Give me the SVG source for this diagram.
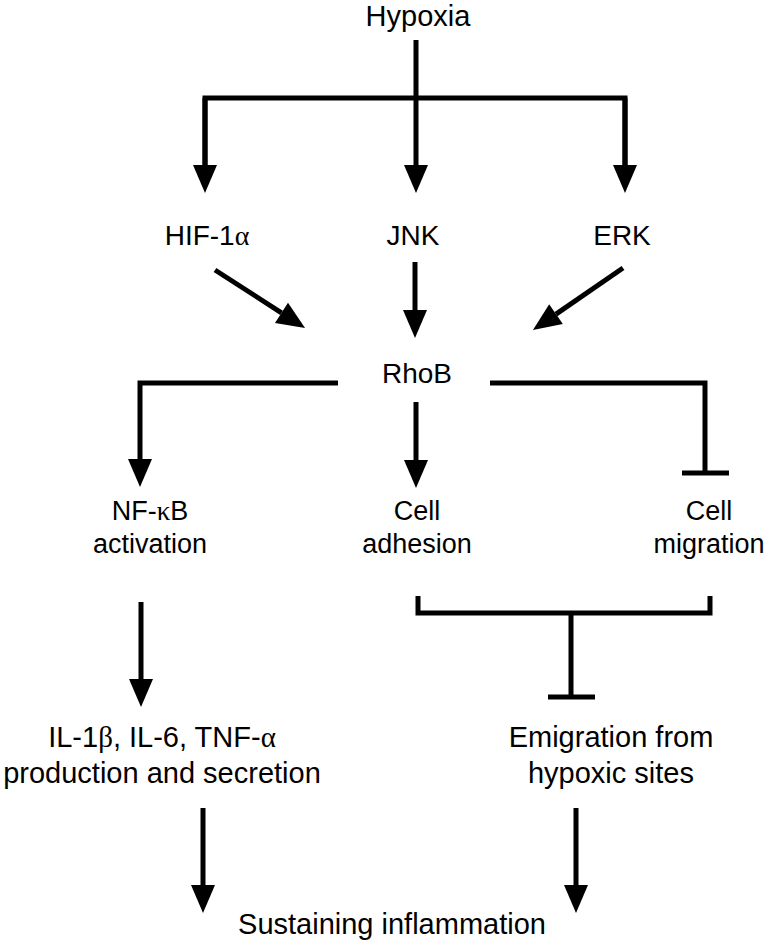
<svg xmlns="http://www.w3.org/2000/svg" width="769" height="943" viewBox="0 0 769 943">
<style>
  text { font-family: "Liberation Sans", Arial, sans-serif; fill: #000; text-anchor: middle; }
  .big { font-size: 29px; }
  .mid { font-size: 28px; }
  .sm { font-size: 27px; }
  .gr { font-family: "Liberation Serif", "DejaVu Serif", serif; }
  .ln { stroke: #000; stroke-width: 5; fill: none; }
  .arr { marker-end: url(#ah); }
</style>
<defs>
  <marker id="ah" markerUnits="userSpaceOnUse" markerWidth="30" markerHeight="26" refX="0" refY="13" orient="auto" overflow="visible">
    <path d="M0,1 L28,13 L0,25 z" fill="#000"/>
  </marker>
</defs>
<rect width="769" height="943" fill="#fff"/>
<g id="connectors">
  <line class="ln" x1="416" y1="40" x2="416" y2="98"/>
  <polyline class="ln" points="205,165 205,98 625,98 625,165" style="marker-end:none"/>
  <line class="ln arr" x1="205" y1="98" x2="205" y2="165"/>
  <line class="ln arr" x1="416" y1="98" x2="416" y2="165"/>
  <line class="ln arr" x1="625" y1="98" x2="625" y2="165"/>
  <line class="ln arr" x1="215" y1="270" x2="281.5" y2="312.8"/>
  <line class="ln arr" x1="415" y1="262" x2="415" y2="310"/>
  <line class="ln arr" x1="623" y1="268" x2="556" y2="314.1"/>
  <polyline class="ln arr" points="338,383 140,383 140,459"/>
  <line class="ln arr" x1="416" y1="402" x2="416" y2="460"/>
  <polyline class="ln" points="490,383 705,383 705,473"/>
  <line class="ln" x1="682" y1="473" x2="729" y2="473"/>
  <line class="ln arr" x1="141" y1="602" x2="141" y2="679"/>
  <polyline class="ln" points="418,596 418,613 710,613 710,596"/>
  <line class="ln" x1="571" y1="613" x2="571" y2="697"/>
  <line class="ln" x1="548" y1="697" x2="595" y2="697"/>
  <line class="ln arr" x1="203" y1="808" x2="203" y2="885"/>
  <line class="ln arr" x1="576" y1="808" x2="576" y2="885"/>
</g>
<g id="hypoxia"><text class="big" x="418" y="26">Hypoxia</text></g>
<g id="hif"><text class="mid" x="207" y="245">HIF-1<tspan class="gr">α</tspan></text></g>
<g id="jnk"><text class="mid" x="413" y="245">JNK</text></g>
<g id="erk"><text class="mid" x="622" y="245">ERK</text></g>
<g id="rhob"><text class="mid" x="417" y="383">RhoB</text></g>
<g id="nfkb"><text class="sm" x="150" y="520">NF-<tspan class="gr">κ</tspan>B</text><text class="sm" x="150" y="553">activation</text></g>
<g id="adhesion"><text class="sm" x="417" y="520">Cell</text><text class="sm" x="417" y="553">adhesion</text></g>
<g id="migration"><text class="sm" x="709" y="520">Cell</text><text class="sm" x="709" y="553">migration</text></g>
<g id="cytokines"><text class="big" x="162" y="747">IL-1<tspan class="gr">β</tspan>, IL-6, TNF-<tspan class="gr">α</tspan></text><text class="big" x="162" y="783">production and secretion</text></g>
<g id="emigration"><text class="big" x="611" y="747">Emigration from</text><text class="big" x="611" y="783">hypoxic sites</text></g>
<g id="inflammation"><text class="big" x="392" y="934">Sustaining inflammation</text></g>
</svg>
